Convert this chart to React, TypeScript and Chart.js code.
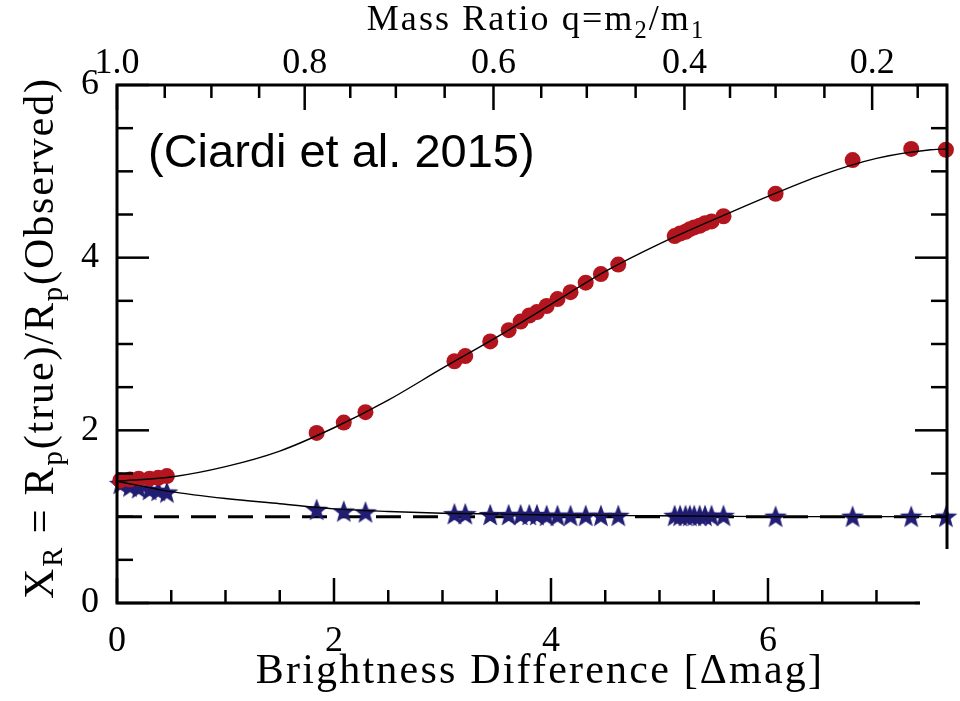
import React, { useEffect, useRef } from "react";
import { Chart, registerables } from "chart.js";

Chart.register(...registerables);

// ---------------- data ----------------
const deltaMag = [0.03, 0.12, 0.2, 0.3, 0.38, 0.46, 1.84, 2.09, 2.29, 3.11, 3.21, 3.44, 3.61, 3.72, 3.8, 3.87, 3.96, 4.06, 4.18, 4.32, 4.46, 4.62, 5.14, 5.19, 5.24, 5.28, 5.32, 5.37, 5.42, 5.48, 5.59, 6.07, 6.78, 7.32, 7.64];
const xrSecondary = [1.42, 1.43, 1.44, 1.44, 1.45, 1.47, 1.97, 2.09, 2.21, 2.8, 2.86, 3.03, 3.16, 3.26, 3.33, 3.37, 3.44, 3.52, 3.6, 3.71, 3.81, 3.92, 4.25, 4.28, 4.3, 4.33, 4.35, 4.37, 4.4, 4.42, 4.48, 4.74, 5.13, 5.26, 5.25];
const xrPrimary = [1.38, 1.35, 1.33, 1.31, 1.3, 1.28, 1.08, 1.06, 1.05, 1.03, 1.03, 1.02, 1.02, 1.02, 1.02, 1.02, 1.01, 1.01, 1.01, 1.01, 1.01, 1.01, 1.01, 1.01, 1.01, 1.01, 1.01, 1.01, 1.01, 1.01, 1.01, 1.0, 1.0, 1.0, 1.0];

const modelMag = [0, 0.5, 1, 1.5, 2, 2.5, 3, 3.5, 4, 4.5, 5, 5.5, 6, 6.5, 7, 7.5, 7.7];
const modelSecondary = [1.41, 1.46, 1.58, 1.76, 2.03, 2.35, 2.72, 3.08, 3.46, 3.84, 4.16, 4.44, 4.71, 4.96, 5.15, 5.25, 5.26];
const modelPrimary = [1.41, 1.29, 1.21, 1.15, 1.09, 1.06, 1.04, 1.03, 1.02, 1.015, 1.01, 1.005, 1.0, 1.0, 1.0, 1.0, 1.0];

const unityMag = [0, 7.7];
const unityValue = [1, 1];

// ticks
const xMajorTicks = [0, 2, 4, 6];
const xMinorTicks = [0.5, 1, 1.5, 2.5, 3, 3.5, 4.5, 5, 5.5, 6.5, 7, 7.5];
const qLabels = ["1.0", "0.8", "0.6", "0.4", "0.2"];
const qMajorMag = [0, 1.73, 3.47, 5.23, 6.96];
const qMinorMag = [0.44, 0.87, 1.31, 2.15, 2.57, 3.02, 3.91, 4.33, 4.78, 5.65, 6.07, 6.52, 7.38];
const yMajorTicks = [0, 2, 4, 6];
const yMinorTicks = [0.5, 1, 1.5, 2.5, 3, 3.5, 4.5, 5, 5.5];

// texts
const xTitle = [{ t: "Brightness Difference [\u0394mag]" }];
const x2Title = [{ t: "Mass Ratio q=m" }, { t: "2", sub: true }, { t: "/m" }, { t: "1", sub: true }];
const yTitle = [
  { t: "X" }, { t: "R", sub: true }, { t: " = R" }, { t: "p", sub: true },
  { t: "(true)/R" }, { t: "p", sub: true }, { t: "(Observed)" },
];
const annotation = "(Ciardi et al. 2015)";

const SERIF = "'Liberation Serif', 'DejaVu Serif', serif";
const SANS = "'Liberation Sans', Arial, sans-serif";
const RED = "#b3151f";
const NAVY = "#211d72";

type Part = { t: string; sub?: boolean };

function drawRich(ctx: CanvasRenderingContext2D, parts: Part[], size: number, spacing: number) {
  const subSize = size * 0.68;
  const widths: number[] = [];
  let total = 0;
  (ctx as any).letterSpacing = `${spacing}px`;
  for (const p of parts) {
    ctx.font = `${p.sub ? subSize : size}px ${SERIF}`;
    const w = ctx.measureText(p.t).width;
    widths.push(w);
    total += w;
  }
  let cx = -total / 2;
  ctx.textAlign = "left";
  ctx.textBaseline = "alphabetic";
  parts.forEach((p, i) => {
    ctx.font = `${p.sub ? subSize : size}px ${SERIF}`;
    ctx.fillText(p.t, cx, p.sub ? size * 0.22 : 0);
    cx += widths[i];
  });
  (ctx as any).letterSpacing = "0px";
}

function makeStar(): HTMLCanvasElement {
  const c = document.createElement("canvas");
  c.width = 26;
  c.height = 26;
  const g = c.getContext("2d")!;
  const R = 12, r = 5, cx = 13, cy = 13.8;
  g.beginPath();
  for (let i = 0; i < 10; i++) {
    const rad = i % 2 === 0 ? R : r;
    const a = -Math.PI / 2 + (i * Math.PI) / 5;
    const px = cx + rad * Math.cos(a);
    const py = cy + rad * Math.sin(a);
    if (i === 0) g.moveTo(px, py);
    else g.lineTo(px, py);
  }
  g.closePath();
  g.fillStyle = NAVY;
  g.fill();
  return c;
}

const framePlugin = {
  id: "frame",
  afterDatasetsDraw(chart: any) {
    const { ctx, chartArea: a, scales } = chart;
    const x = scales.x, x2 = scales.x2, y = scales.y;
    ctx.save();
    ctx.strokeStyle = "#000";
    ctx.fillStyle = "#000";
    ctx.lineCap = "butt";
    ctx.lineWidth = 2.5;
    const seg = (x0: number, y0: number, x1: number, y1: number) => {
      ctx.beginPath();
      ctx.moveTo(x0, y0);
      ctx.lineTo(x1, y1);
      ctx.stroke();
    };
    xMajorTicks.forEach((v) => { const p = x.getPixelForValue(v); seg(p, a.bottom, p, a.bottom - 25); });
    xMinorTicks.forEach((v) => { const p = x.getPixelForValue(v); seg(p, a.bottom, p, a.bottom - 13); });
    qMajorMag.forEach((v) => { const p = x2.getPixelForValue(v); seg(p, a.top, p, a.top + 25); });
    qMinorMag.forEach((v) => { const p = x2.getPixelForValue(v); seg(p, a.top, p, a.top + 13); });
    yMajorTicks.forEach((v) => {
      const p = y.getPixelForValue(v);
      seg(a.left, p, a.left + 32, p);
      seg(a.right, p, a.right - 32, p);
    });
    yMinorTicks.forEach((v) => {
      const p = y.getPixelForValue(v);
      seg(a.left, p, a.left + 16, p);
      seg(a.right, p, a.right - 16, p);
    });
    ctx.lineWidth = 3;
    ctx.strokeRect(a.left, a.top, a.right - a.left, a.bottom - a.top);

    // annotation
    ctx.font = `47px ${SANS}`;
    ctx.textAlign = "left";
    ctx.textBaseline = "alphabetic";
    ctx.fillText(annotation, a.left + 31, a.top + 82);

    // axis titles
    const cxArea = (a.left + a.right) / 2;
    ctx.save();
    ctx.translate(cxArea + 8, a.bottom + 80);
    drawRich(ctx, xTitle, 42, 2.2);
    ctx.restore();

    ctx.save();
    ctx.translate(cxArea + 4, a.top - 55);
    drawRich(ctx, x2Title, 36, 2.1);
    ctx.restore();

    ctx.save();
    ctx.translate(a.left - 64, (a.top + a.bottom) / 2 - 6);
    ctx.rotate(-Math.PI / 2);
    drawRich(ctx, yTitle, 42, 1.9);
    ctx.restore();

    // cropped corner of the original figure
    ctx.fillStyle = "#fff";
    ctx.fillRect(a.right - 27, a.bottom - 54, 40, 200);
    ctx.restore();
  },
};

export default function App() {
  const ref = useRef<HTMLCanvasElement | null>(null);
  useEffect(() => {
    const canvas = ref.current!;
    const star = makeStar();
    const tickFont = { family: SERIF, size: 36 };
    const chart = new Chart(canvas, {
      type: "scatter",
      data: {
        datasets: [
          {
            type: "line",
            label: "secondary model",
            data: modelMag.map((v, i) => ({ x: v, y: modelSecondary[i] })),
            borderColor: "#000",
            borderWidth: 1.4,
            pointRadius: 0,
            cubicInterpolationMode: "monotone",
            fill: false,
            order: 0,
            clip: 0,
          } as any,
          {
            type: "line",
            label: "primary model",
            data: modelMag.map((v, i) => ({ x: v, y: modelPrimary[i] })),
            borderColor: "#000",
            borderWidth: 1.4,
            pointRadius: 0,
            cubicInterpolationMode: "monotone",
            fill: false,
            order: 0,
            clip: 0,
          } as any,
          {
            label: "host = secondary",
            data: deltaMag.map((v, i) => ({ x: v, y: xrSecondary[i] })),
            backgroundColor: RED,
            borderColor: RED,
            borderWidth: 0,
            pointRadius: 8,
            pointStyle: "circle",
            order: 1,
            clip: false,
          } as any,
          {
            label: "host = primary",
            data: deltaMag.map((v, i) => ({ x: v, y: xrPrimary[i] })),
            pointStyle: star,
            pointRadius: 12,
            order: 1,
            clip: false,
          } as any,
          {
            type: "line",
            label: "unity",
            data: unityMag.map((v, i) => ({ x: v, y: unityValue[i] })),
            borderColor: "#000",
            borderWidth: 3,
            borderDash: [25, 12],
            pointRadius: 0,
            fill: false,
            order: 2,
            clip: 0,
          } as any,
        ],
      },
      options: {
        animation: false,
        responsive: false,
        maintainAspectRatio: false,
        events: [],
        layout: { padding: { left: 0, right: 2, top: 0, bottom: 0 } },
        plugins: { legend: { display: false }, tooltip: { enabled: false }, title: { display: false } },
        scales: {
          x: {
            type: "linear",
            position: "bottom",
            min: 0,
            max: 7.65,
            grid: { display: false },
            border: { display: false },
            afterBuildTicks: (s: any) => { s.ticks = xMajorTicks.map((v) => ({ value: v })); },
            afterFit: (s: any) => { s.height = 98; },
            ticks: { font: tickFont, color: "#000", padding: 9, maxRotation: 0, autoSkip: false },
          },
          x2: {
            type: "linear",
            position: "top",
            min: 0,
            max: 7.65,
            grid: { display: false },
            border: { display: false },
            afterBuildTicks: (s: any) => { s.ticks = qMajorMag.map((v) => ({ value: v })); },
            afterFit: (s: any) => { s.height = 85; },
            ticks: {
              font: tickFont,
              color: "#000",
              padding: -8,
              maxRotation: 0,
              autoSkip: false,
              callback: (_v: any, i: number) => qLabels[i],
            },
          },
          y: {
            type: "linear",
            position: "left",
            min: 0,
            max: 6,
            grid: { display: false },
            border: { display: false },
            afterBuildTicks: (s: any) => { s.ticks = yMajorTicks.map((v) => ({ value: v })); },
            afterFit: (s: any) => { s.width = 117; },
            ticks: { font: tickFont, color: "#000", padding: 10, autoSkip: false },
          },
        },
      } as any,
      plugins: [framePlugin],
    });
    return () => chart.destroy();
  }, []);

  return (
    <div style={{ position: "fixed", left: 0, top: 0, width: 960, height: 701, background: "#fff" }}>
      <canvas ref={ref} width={960} height={701} style={{ width: 960, height: 701, display: "block" }} />
    </div>
  );
}
